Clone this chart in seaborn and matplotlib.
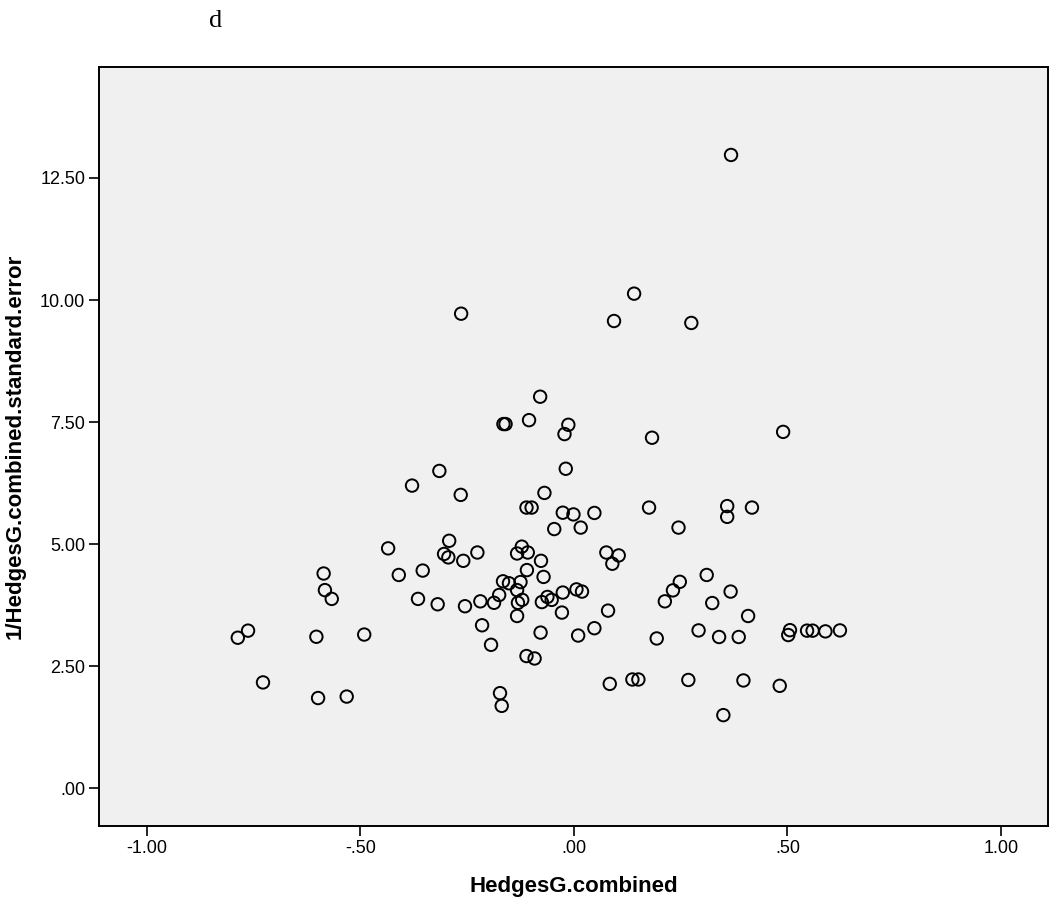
import pandas as pd
import matplotlib
matplotlib.use("Agg")
import matplotlib.pyplot as plt
import seaborn as sns

# Effect sizes (x) and precision 1/SE (y)
hedges_g = [-0.787, -0.763, -0.728, -0.603, -0.599, -0.586, -0.583, -0.567, -0.532, -0.491,
            -0.435, -0.410, -0.379, -0.365, -0.354, -0.319, -0.315, -0.304, -0.294, -0.292,
            -0.265, -0.264, -0.259, -0.255, -0.226, -0.219, -0.215, -0.194, -0.187, -0.175,
            -0.173, -0.169, -0.166, -0.165, -0.160, -0.152, -0.133, -0.133, -0.133, -0.131,
            -0.125, -0.122, -0.121, -0.111, -0.111, -0.110, -0.108, -0.105, -0.099, -0.092,
            -0.079, -0.078, -0.077, -0.075, -0.071, -0.069, -0.062, -0.052, -0.046, -0.028,
            -0.026, -0.026, -0.022, -0.019, -0.013, -0.001, 0.006, 0.010, 0.016, 0.019,
            0.048, 0.048, 0.076, 0.080, 0.084, 0.090, 0.094, 0.105, 0.137, 0.141,
            0.151, 0.176, 0.183, 0.194, 0.213, 0.232, 0.245, 0.248, 0.268, 0.275,
            0.292, 0.311, 0.324, 0.340, 0.350, 0.359, 0.359, 0.367, 0.368, 0.386,
            0.397, 0.408, 0.417, 0.482, 0.490, 0.502, 0.506, 0.546, 0.559, 0.589, 0.623]
inv_se = [3.085, 3.23, 2.17, 3.105, 1.85, 4.40, 4.06, 3.88, 1.88, 3.15,
          4.915, 4.37, 6.20, 3.88, 4.46, 3.77, 6.50, 4.80, 4.73, 5.07,
          6.01, 9.72, 4.66, 3.73, 4.83, 3.83, 3.34, 2.94, 3.80, 3.96,
          1.95, 1.69, 4.24, 7.46, 7.46, 4.20, 4.81, 4.06, 3.53, 3.80,
          4.225, 4.95, 3.86, 5.75, 2.71, 4.47, 4.83, 7.54, 5.75, 2.66,
          8.02, 3.19, 4.66, 3.815, 4.33, 6.05, 3.92, 3.86, 5.31, 3.60,
          4.01, 5.645, 7.255, 6.545, 7.445, 5.61, 4.075, 3.13, 5.34, 4.03,
          5.64, 3.28, 4.83, 3.64, 2.14, 4.60, 9.57, 4.77, 2.23, 10.13,
          2.23, 5.75, 7.18, 3.07, 3.83, 4.055, 5.34, 4.23, 2.22, 9.53,
          3.235, 4.37, 3.795, 3.10, 1.50, 5.78, 5.56, 4.03, 12.97, 3.10,
          2.21, 3.53, 5.75, 2.10, 7.30, 3.14, 3.24, 3.23, 3.23, 3.215, 3.235]

x_ticks = [-1.0, -0.5, 0.0, 0.5, 1.0]
x_tick_labels = ["-1.00", "-.50", ".00", ".50", "1.00"]
y_ticks = [0.0, 2.5, 5.0, 7.5, 10.0, 12.5]
y_tick_labels = [".00", "2.50", "5.00", "7.50", "10.00", "12.50"]

df = pd.DataFrame({"HedgesG.combined": hedges_g, "1/HedgesG.combined.standard.error": inv_se})

sns.set_style("white")
plt.rcParams['font.family'] = ['Liberation Sans', 'DejaVu Sans']
plt.rcParams['text.color'] = 'black'
plt.rcParams['axes.labelcolor'] = 'black'
plt.rcParams['xtick.color'] = 'black'
plt.rcParams['ytick.color'] = 'black'

fig = plt.figure(figsize=(10.5, 9.06), dpi=100)
ax = fig.add_axes([0.0943, 0.0883, 0.9037, 0.8377])
ax.set_facecolor("#f0f0f0")

sns.scatterplot(data=df, x="HedgesG.combined", y="1/HedgesG.combined.standard.error",
                ax=ax, s=80, facecolors="none", edgecolor="black", linewidth=1.4)

ax.set_xlim(-1.112, 1.110)
ax.set_ylim(-0.77, 14.77)
ax.set_xticks(x_ticks)
ax.set_xticklabels(x_tick_labels, fontsize=13)
ax.set_yticks(y_ticks)
ax.set_yticklabels(y_tick_labels, fontsize=13)
ax.tick_params(axis="both", direction="out", length=7, width=1.2, color="black",
               labelcolor="black", bottom=True, left=True, pad=3)

for side in ax.spines.values():
    side.set_color("black")
    side.set_linewidth(1.4)

ax.set_xlabel("HedgesG.combined", fontsize=16, fontweight="bold", labelpad=14, color="black")
ax.set_ylabel("1/HedgesG.combined.standard.error", fontsize=16, fontweight="bold",
              labelpad=10, color="black")

fig.text(0.205, 0.977, "d", fontsize=19, family="Liberation Serif", va="center", ha="center")

fig.savefig("out.png", dpi=100)
